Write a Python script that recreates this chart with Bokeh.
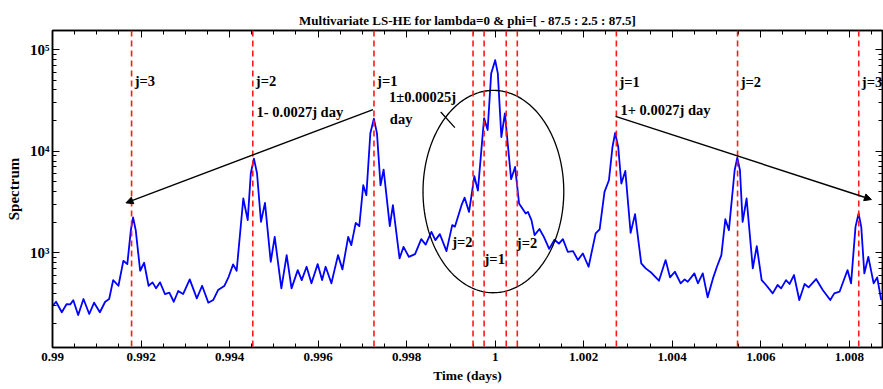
import numpy as np
from bokeh.plotting import figure
from bokeh.models import (Span, Arrow, NormalHead, Label, FixedTicker, LinearAxis,
                          LogAxis, Range1d, CustomJSTickFormatter)
from bokeh.embed import file_html
from bokeh.resources import INLINE

# Spectrum of the multivariate LS-HE analysis around one cycle per day
time_days = [
    0.99000, 0.99008, 0.99021, 0.99032, 0.99040, 0.99047, 0.99058, 0.99070, 0.99083, 0.99094,
    0.99107, 0.99119, 0.99128, 0.99137, 0.99149, 0.99160, 0.99169, 0.99177, 0.99182, 0.99188,
    0.99198, 0.99207, 0.99217, 0.99226, 0.99234, 0.99243, 0.99254, 0.99264, 0.99274, 0.99284,
    0.99295, 0.99310, 0.99326, 0.99338, 0.99352, 0.99363, 0.99374, 0.99388, 0.99398, 0.99408,
    0.99416, 0.99431, 0.99441, 0.99448, 0.99455, 0.99462, 0.99471, 0.99480, 0.99493, 0.99502,
    0.99517, 0.99529, 0.99540, 0.99554, 0.99563, 0.99574, 0.99585, 0.99599, 0.99609, 0.99617,
    0.99630, 0.99645, 0.99655, 0.99668, 0.99675, 0.99685, 0.99693, 0.99702, 0.99709, 0.99718,
    0.99726, 0.99733, 0.99741, 0.99748, 0.99762, 0.99769, 0.99784, 0.99793, 0.99805, 0.99819,
    0.99833, 0.99843, 0.99856, 0.99865, 0.99875, 0.99890, 0.99903, 0.99909, 0.99924, 0.99931,
    0.99941, 0.99953, 0.99961, 0.99975, 0.99983, 0.99991, 1.00000, 1.00006, 1.00014, 1.00022,
    1.00036, 1.00045, 1.00054, 1.00069, 1.00074, 1.00082, 1.00089, 1.00100, 1.00110, 1.00122,
    1.00134, 1.00144, 1.00153, 1.00164, 1.00176, 1.00187, 1.00198, 1.00211, 1.00227, 1.00236,
    1.00247, 1.00257, 1.00265, 1.00271, 1.00278, 1.00285, 1.00294, 1.00306, 1.00316, 1.00330,
    1.00340, 1.00353, 1.00370, 1.00385, 1.00395, 1.00406, 1.00419, 1.00428, 1.00435, 1.00450,
    1.00458, 1.00469, 1.00480, 1.00492, 1.00501, 1.00511, 1.00520, 1.00528, 1.00541, 1.00547,
    1.00553, 1.00559, 1.00568, 1.00582, 1.00591, 1.00602, 1.00612, 1.00627, 1.00638, 1.00646,
    1.00657, 1.00665, 1.00675, 1.00687, 1.00699, 1.00708, 1.00725, 1.00740, 1.00757, 1.00766,
    1.00778, 1.00785, 1.00796, 1.00804, 1.00814, 1.00821, 1.00827, 1.00834, 1.00843, 1.00855,
    1.00863, 1.00872,
]
spectrum = [
    300, 330, 260, 313, 311, 341, 244, 351, 250, 323,
    260, 330, 351, 539, 474, 834, 774, 1671, 2227, 1671,
    666, 798, 474, 512, 447, 512, 393, 405, 330, 421,
    393, 548, 356, 474, 323, 343, 430, 471, 581, 769,
    666, 3423, 2095, 6066, 8457, 6066, 2016, 3099, 816, 1436,
    447, 949, 447, 676, 539, 729, 501, 774, 539, 729,
    501, 949, 687, 1436, 1190, 1971, 1829, 4624, 3688, 14990,
    20900, 14990, 4624, 6597, 1829, 2942, 881, 1145, 913, 971,
    1363, 1204, 1608, 1333, 1527, 1039, 1871, 1809, 2942, 3485,
    2528, 5667, 4102, 21140, 16160, 58240, 78690, 58240, 13790, 23570,
    5297, 6996, 3057, 2438, 2528, 2095, 1493, 1717, 1436, 1092,
    1345, 1229, 1363, 1023, 1039, 848, 986, 729, 1551, 1698,
    3974, 5178, 10998, 15094, 10998, 4805, 6390, 1572, 2400, 787,
    703, 636, 531, 848, 573, 651, 501, 548, 519, 627,
    501, 627, 365, 560, 729, 949, 2143, 1671, 6493, 8650,
    6493, 2016, 3423, 703, 1164, 539, 482, 399, 482, 447,
    539, 493, 604, 343, 493, 457, 552, 430, 343, 399,
    414, 501, 676, 501, 1800, 2438, 1800, 627, 913, 501,
    573, 343,
]

x_ticks = [0.99, 0.992, 0.994, 0.996, 0.998, 1.0, 1.002, 1.004, 1.006, 1.008]
x_tick_labels = ["0.99", "0.992", "0.994", "0.996", "0.998", "1",
                 "1.002", "1.004", "1.006", "1.008"]
y_ticks = [1e3, 1e4, 1e5]
y_tick_labels = ["10\u00b3", "10\u2074", "10\u2075"]

# harmonic spacings (days) and orders of the marked lines
side_step = 1 / 365.25
center_step = 0.00025
side_orders = [1, 2, 3]
center_orders = [1, 2]

FONT = "Liberation Serif"

p = figure(width=883, height=389, y_axis_type="log",
           x_range=Range1d(0.99, 1.00875), y_range=Range1d(117, 154000),
           output_backend="svg", toolbar_location=None,
           min_border_left=52, min_border_right=1,
           min_border_top=30, min_border_bottom=42)

p.title.text = "Multivariate LS-HE for lambda=0 & phi=[ - 87.5 : 2.5 : 87.5]"
p.title.align = "center"
p.title.vertical_align = "middle"
p.title.offset = -10
p.title.text_font = FONT
p.title.text_font_size = "13px"
p.title.text_font_style = "bold"
p.title.text_color = "black"
p.title.standoff = 4

p.xgrid.visible = False
p.ygrid.visible = False
p.outline_line_color = "black"
p.outline_line_width = 1.5
p.background_fill_color = "white"

x_minor = list(np.round(np.arange(0.99, 1.0088, 0.0005), 4))
y_minor = [m * 10 ** e for e in (2, 3, 4) for m in range(2, 10)]

def style_axis(ax):
    ax.axis_line_color = "black"
    ax.axis_line_width = 1.5
    ax.major_tick_in = 7
    ax.major_tick_out = 0
    ax.minor_tick_in = 4
    ax.minor_tick_out = 0
    ax.major_tick_line_color = "black"
    ax.minor_tick_line_color = "black"
    ax.major_label_text_font = FONT
    ax.major_label_text_font_style = "bold"
    ax.major_label_text_color = "black"
    ax.axis_label_text_font = FONT
    ax.axis_label_text_font_style = "bold"
    ax.axis_label_text_color = "black"

xax = p.xaxis[0]
xax.ticker = FixedTicker(ticks=x_ticks, minor_ticks=x_minor)
xax.major_label_overrides = dict(zip(x_ticks, x_tick_labels))
xax.axis_label = "Time (days)"
style_axis(xax)
xax.major_label_text_font_size = "13px"
xax.axis_label_text_font_size = "13.5px"
xax.major_label_standoff = 5
xax.axis_label_standoff = 4

yax = p.yaxis[0]
yax.ticker = FixedTicker(ticks=y_ticks, minor_ticks=y_minor)
yax.major_label_overrides = dict(zip(y_ticks, y_tick_labels))
yax.axis_label = "Spectrum"
style_axis(yax)
yax.major_label_text_font_size = "15px"
yax.axis_label_text_font_size = "15px"
yax.major_label_standoff = 3
yax.axis_label_standoff = 5

# mirrored tick marks on the top and right edges, without labels
blank = CustomJSTickFormatter(code="return '';")
top = LinearAxis(ticker=FixedTicker(ticks=x_ticks, minor_ticks=x_minor), formatter=blank)
style_axis(top)
top.major_label_standoff = 0
top.major_label_text_font_size = "2px"
p.add_layout(top, "above")
right = LogAxis(ticker=FixedTicker(ticks=y_ticks, minor_ticks=y_minor), formatter=blank)
style_axis(right)
right.major_label_standoff = 0
right.major_label_text_font_size = "2px"
p.add_layout(right, "right")

# dashed markers at the side peaks and around the central peak
for j in side_orders:
    for loc in (1 - side_step * j, 1 + side_step * j):
        p.add_layout(Span(location=loc, dimension="height", line_color="#ff1a1a",
                          line_dash="6 4", line_width=1.6))
for j in center_orders:
    for loc in (1 - center_step * j, 1 + center_step * j):
        p.add_layout(Span(location=loc, dimension="height", line_color="#ff1a1a",
                          line_dash="6 4", line_width=1.6))

p.line(time_days, spectrum, line_color="#0000ff", line_width=1.8, line_join="round")

# ellipse around the central cluster (round in screen space on the log axis)
theta = np.linspace(0, 2 * np.pi, 240)
ell_x = 0.99996 + 0.00159 * np.cos(theta)
ell_y = 10 ** (3.6027 + 0.9956 * np.sin(theta))
p.line(ell_x, ell_y, line_color="black", line_width=1.3)
p.line([0.99877, 0.99909], [24270, 17050], line_color="black", line_width=1.3)

# trend arrows through the side peaks
p.add_layout(Arrow(end=NormalHead(size=7, fill_color="black", line_color="black"),
                   x_start=0.99724, y_start=25620, x_end=0.99166, y_end=3099,
                   line_color="black", line_width=1.4))
p.add_layout(Arrow(end=NormalHead(size=7, fill_color="black", line_color="black"),
                   x_start=1.00272, y_start=22020, x_end=1.00850, y_end=3346,
                   line_color="black", line_width=1.4))

def note(x, y, text):
    p.add_layout(Label(x=x, y=y, text=text, text_font=FONT, text_font_size="14.5px",
                       text_font_style="bold", text_color="black",
                       text_baseline="middle", text_align="left"))

for j in side_orders:
    note(1 - side_step * j + 0.00007, 49000, f"j={j}")
    note(1 + side_step * j + 0.00007, 48000, f"j={j}")

note(0.99461, 24100, "1- 0.0027j day")
note(1.00283, 25200, "1+ 0.0027j day")
note(0.99760, 33850, "1\u00b10.00025j")
note(0.99762, 20580, "day")
note(0.99903, 1274, "j=2")
note(0.99976, 867, "j=1")
note(1.00049, 1245, "j=2")

open("out.html", "w").write(file_html(p, INLINE))
